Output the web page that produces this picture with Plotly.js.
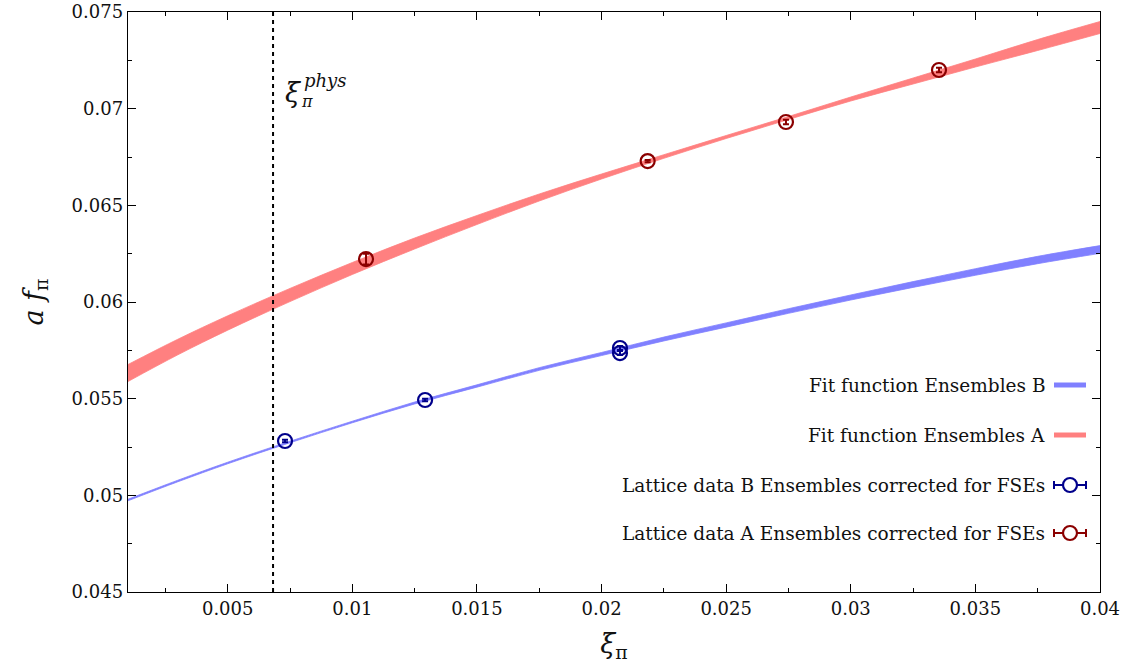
<!DOCTYPE html>
<html>
<head>
<meta charset="utf-8">
<script src="https://cdn.plot.ly/plotly-3.0.1.min.js"></script>
<style>html,body{margin:0;padding:0;background:#fff;}#chart{width:1125px;height:670px;}</style>
</head>
<body>
<div id="chart"></div>
<script>
// ---- data ----
const xiPhys = 0.00682;

const xFit = [0.001, 0.003, 0.005, 0.0075, 0.01, 0.0125, 0.015, 0.0175, 0.02, 0.0225, 0.025, 0.0275, 0.03, 0.0325, 0.035, 0.0375, 0.04];
const fitA_low  = [0.055888, 0.057269, 0.058542, 0.060021, 0.061423, 0.062742, 0.064008, 0.065224, 0.066362, 0.067433, 0.068456, 0.069439, 0.070397, 0.071276, 0.072155, 0.073009, 0.073888];
const fitA_high = [0.056768, 0.058075, 0.059286, 0.060703, 0.062043, 0.06331, 0.064474, 0.065586, 0.06662, 0.067619, 0.068612, 0.069595, 0.070603, 0.071586, 0.072569, 0.073577, 0.074508];
const fitB_low  = [0.049719, 0.050701, 0.051632, 0.052719, 0.053753, 0.054726, 0.055595, 0.056464, 0.05723, 0.057986, 0.0587, 0.059414, 0.060103, 0.060755, 0.061382, 0.061982, 0.062516];
const fitB_high = [0.049799, 0.050781, 0.051712, 0.052799, 0.053833, 0.054826, 0.055715, 0.056604, 0.05739, 0.058186, 0.05892, 0.059654, 0.060363, 0.061055, 0.061722, 0.062362, 0.062916];

const latA_x   = [0.01055, 0.02185, 0.0274, 0.03354];
const latA_y   = [0.06222, 0.06729, 0.06931, 0.0720];
const latA_err = [0.00028, 0.00006, 0.00012, 0.00012];

const latB_x   = [0.0073, 0.01292, 0.02074, 0.02074];
const latB_y   = [0.05281, 0.05493, 0.05762, 0.05736];
const latB_err = [0.00006, 0.00006, 0.0001, 0.0001];

const legendLabels = ["Fit function Ensembles B", "Fit function Ensembles A",
  "Lattice data B Ensembles corrected for FSEs", "Lattice data A Ensembles corrected for FSEs"];

// ---- styles ----
const redBand = 'rgb(255,128,128)';
const blueBand = 'rgb(128,128,255)';
const redPt = 'rgb(139,0,0)';
const bluePt = 'rgb(0,0,139)';
const FONT = 'DejaVu Serif';

const traces = [
  {x: xFit, y: fitB_low, mode: 'lines', line: {color: blueBand, width: 0.8, shape: 'spline'}, hoverinfo: 'skip'},
  {x: xFit, y: fitB_high, mode: 'lines', fill: 'tonexty', fillcolor: blueBand, line: {color: blueBand, width: 0.8, shape: 'spline'}, hoverinfo: 'skip'},
  {x: xFit, y: fitA_low, mode: 'lines', line: {color: redBand, width: 0.8, shape: 'spline'}, hoverinfo: 'skip'},
  {x: xFit, y: fitA_high, mode: 'lines', fill: 'tonexty', fillcolor: redBand, line: {color: redBand, width: 0.8, shape: 'spline'}, hoverinfo: 'skip'},
  {x: [xiPhys, xiPhys], y: [0.045, 0.075], mode: 'lines', line: {color: '#000', width: 2, dash: '4px,4px'}, hoverinfo: 'skip'},
  {x: latB_x, y: latB_y, mode: 'markers',
   marker: {symbol: 'circle-open', size: 14, color: bluePt, line: {width: 2.2, color: bluePt}},
   error_y: {type: 'data', array: latB_err, visible: true, color: bluePt, thickness: 2, width: 3}},
  {x: latA_x, y: latA_y, mode: 'markers',
   marker: {symbol: 'circle-open', size: 14, color: redPt, line: {width: 2.2, color: redPt}},
   error_y: {type: 'data', array: latA_err, visible: true, color: redPt, thickness: 2, width: 3}}
];

// legend drawn in gnuplot style (text right, sample at right)
const L = 128, R = 1100, T = 12, B = 592;
const px = v => (v - L) / (R - L);
const py = v => (B - v) / (B - T);
const legY = [385, 435, 485, 533];
const shapes = [];
const annotations = [];
legendLabels.forEach((t, i) => {
  annotations.push({xref: 'paper', yref: 'paper', x: px(1047), y: py(legY[i]), xanchor: 'right', yanchor: 'middle',
    text: t, showarrow: false, font: {family: FONT, size: 18.5, color: '#111'}});
});
shapes.push({type: 'line', xref: 'paper', yref: 'paper', x0: px(1054), x1: px(1086), y0: py(legY[0]), y1: py(legY[0]), line: {color: blueBand, width: 5}});
shapes.push({type: 'line', xref: 'paper', yref: 'paper', x0: px(1054), x1: px(1086), y0: py(legY[1]), y1: py(legY[1]), line: {color: redBand, width: 5}});
[[legY[2], bluePt], [legY[3], redPt]].forEach(([yy, c]) => {
  shapes.push({type: 'line', xref: 'paper', yref: 'paper', x0: px(1054), x1: px(1086), y0: py(yy), y1: py(yy), line: {color: c, width: 2}});
  shapes.push({type: 'line', xref: 'paper', yref: 'paper', x0: px(1054), x1: px(1054), y0: py(yy - 4), y1: py(yy + 4), line: {color: c, width: 2}});
  shapes.push({type: 'line', xref: 'paper', yref: 'paper', x0: px(1086), x1: px(1086), y0: py(yy - 4), y1: py(yy + 4), line: {color: c, width: 2}});
  shapes.push({type: 'circle', xref: 'paper', yref: 'paper', xsizemode: 'pixel', ysizemode: 'pixel',
    xanchor: px(1070), yanchor: py(yy), x0: -7, x1: 7, y0: -7, y1: 7, fillcolor: 'white', line: {color: c, width: 2.2}});
});

// xi_pi^phys label
annotations.push({xref: 'paper', yref: 'paper', x: px(283), y: py(92), xanchor: 'left', yanchor: 'middle',
  text: '<i>ξ</i>', showarrow: false, font: {family: FONT, size: 27, color: '#111'}});
annotations.push({xref: 'paper', yref: 'paper', x: px(302), y: py(80), xanchor: 'left', yanchor: 'middle',
  text: '<i>phys</i>', showarrow: false, font: {family: FONT, size: 18, color: '#111'}});
annotations.push({xref: 'paper', yref: 'paper', x: px(299), y: py(102), xanchor: 'left', yanchor: 'middle',
  text: '<i>π</i>', showarrow: false, font: {family: FONT, size: 16, color: '#111'}});

const axisCommon = {
  showgrid: false, zeroline: false, showline: true, linecolor: '#000', linewidth: 1.3,
  mirror: 'ticks', ticks: 'inside', ticklen: 8, tickwidth: 1, tickcolor: '#000',
  tickfont: {family: FONT, size: 18, color: '#111'}
};

const layout = {
  width: 1125, height: 670,
  margin: {l: 128, r: 25, t: 12, b: 78},
  paper_bgcolor: '#fff', plot_bgcolor: '#fff',
  showlegend: false,
  xaxis: Object.assign({}, axisCommon, {
    range: [0.001, 0.04], tick0: 0, dtick: 0.005,
    minor: {dtick: 0.0025, ticklen: 4, tickcolor: '#000', ticks: 'inside'},
    title: {text: '<i>ξ</i><sub>π</sub>', font: {family: FONT, size: 27, color: '#111'}, standoff: 16}
  }),
  yaxis: Object.assign({}, axisCommon, {
    range: [0.045, 0.075], tick0: 0, dtick: 0.005,
    minor: {dtick: 0.0025, ticklen: 4, tickcolor: '#000', ticks: 'inside'},
    title: {text: '<i>a f</i><sub>π</sub>', font: {family: FONT, size: 27, color: '#111'}, standoff: 20}
  }),
  shapes: shapes,
  annotations: annotations
};

Plotly.newPlot('chart', traces, layout, {staticPlot: true, displayModeBar: false});
</script>
</body>
</html>
